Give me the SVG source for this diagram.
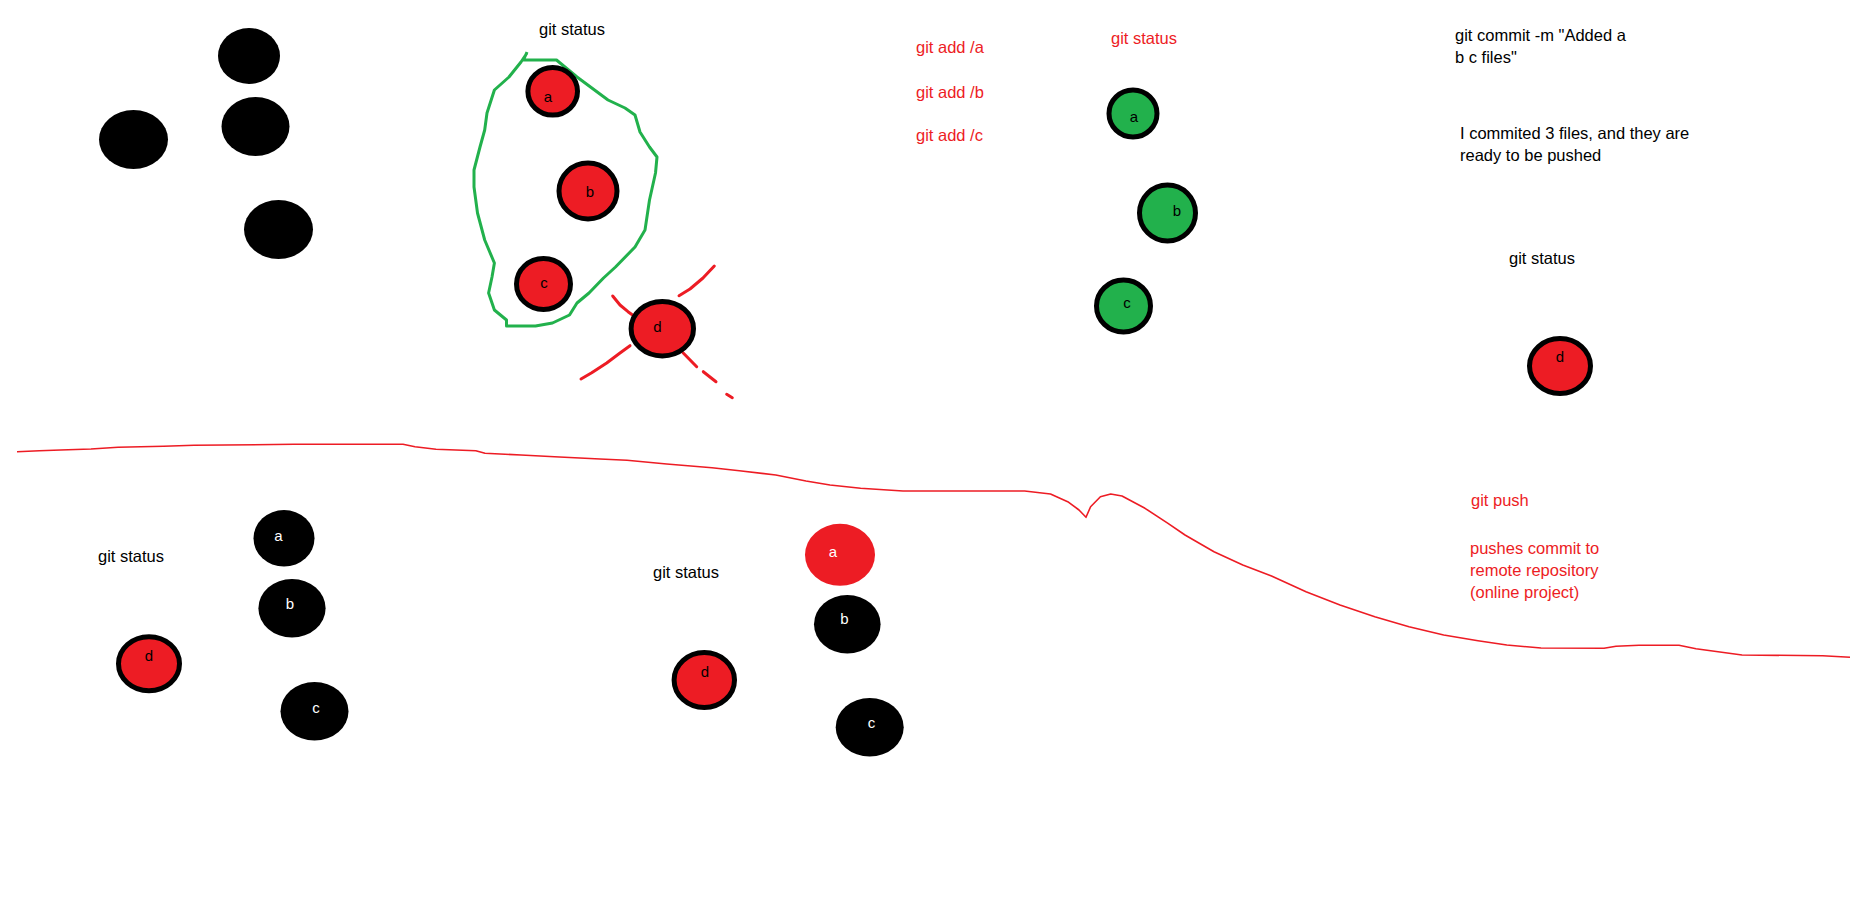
<svg xmlns="http://www.w3.org/2000/svg" width="1851" height="903" viewBox="0 0 1851 903">
<style>
.t{font-family:"Liberation Sans",Arial,sans-serif;font-size:16.5px;fill:#000}
.tr{font-family:"Liberation Sans",Arial,sans-serif;font-size:16.5px;fill:#ED1C24}
.l{font-family:"Liberation Sans",Arial,sans-serif;font-size:15px;text-anchor:middle;fill:#000}
.lw{font-family:"Liberation Sans",Arial,sans-serif;font-size:15px;text-anchor:middle;fill:#fff}
.blk{fill:#000}
.rb{fill:#ED1C24;stroke:#000;stroke-width:5}
.gb{fill:#22B14C;stroke:#000;stroke-width:5}
.rf{fill:#ED1C24}
.rs{fill:none;stroke:#ED1C24;stroke-width:3;stroke-linecap:round;stroke-linejoin:round}
</style>
<rect width="1851" height="903" fill="#fff"/>

<g id="blobs">
<ellipse class="blk" cx="249" cy="56" rx="31" ry="28"/>
<ellipse class="blk" cx="133.5" cy="139.5" rx="34.5" ry="29.5"/>
<ellipse class="blk" cx="255.5" cy="126.5" rx="34" ry="29.5"/>
<ellipse class="blk" cx="278.5" cy="229.5" rx="34.5" ry="29.5"/>
</g>

<g id="connectors">
<polyline fill="none" stroke="#22B14C" stroke-width="3" stroke-linejoin="round" points="527,52 523.5,60 556.5,60 577,77 608,100 625,108 635,115 640,132 649.5,147 657,157 655.5,173 649.5,200 645,230 635,247 615.5,267 603.5,278 589,293 577,303 569.5,315 552.5,323 535.5,326 506.5,326 506.5,320 494.4,310 488.6,293 492,277 494.4,263 484.7,240 477.5,213 474,187 474,170 480,147 484.7,130 487,113 494.4,90 509,77 521,62 527,53"/>
<path class="rs" d="M714.3,266 L703,278 L690,289 L679,295.7"/>
<path class="rs" d="M612.7,296 L620,305 L628,311.7 L635,316.7"/>
<path class="rs" d="M630,345.7 L620,353 L606.7,363 L591.7,372.7 L581,379"/>
<path class="rs" d="M683,352.7 L696.7,366.7 M703.3,371.7 L716,381.7 M726.7,394.3 L732.3,397.7"/>
<polyline fill="none" stroke="#ED1C24" stroke-width="1.6" stroke-linejoin="round" points="17,451.7 39.4,450.7 60.6,450 91,449 118,447.3 163.6,446.3 194,445.3 294,444.3 403,444.3 415,446.7 436,449.3 475.8,450.7 485,453.3 521,455 554.5,456.7 600,459 627,460.3 666.7,464 712,467.7 739.4,470.7 775.8,475 806,481 830,485 860.6,488.3 903,491 950,491 1024.6,491 1050.5,494 1067.7,501.7 1079,510 1086,517.3 1090.6,506.7 1100.4,496.7 1110.7,494 1122,496 1145,508.3 1168,523.3 1185,535 1214,551.7 1242.8,565 1271.5,576 1306,591.7 1340,605 1374.8,616.7 1409,626.7 1443.7,635 1478,640.7 1506.8,645 1541,648 1604,648.3 1616,646.3 1639,645.3 1679,645.3 1696,648.7 1742,655 1822.6,655.7 1850,657.3"/>
</g>

<g id="staged-a"><ellipse class="rb" cx="552.7" cy="91.3" rx="24.8" ry="23.8"/><text class="l" x="548" y="101.5">a</text></g>
<g id="staged-b"><ellipse class="rb" cx="588" cy="191" rx="29" ry="28"/><text class="l" x="590" y="197">b</text></g>
<g id="staged-c"><ellipse class="rb" cx="543.5" cy="284" rx="27" ry="25.5"/><text class="l" x="544" y="287.5">c</text></g>
<g id="unstaged-d"><ellipse class="rb" cx="662.3" cy="328.7" rx="31.2" ry="27.2"/><text class="l" x="657.3" y="331.5">d</text></g>

<g id="committed-a"><ellipse class="gb" cx="1133" cy="113.5" rx="24" ry="23.5"/><text class="l" x="1134" y="122">a</text></g>
<g id="committed-b"><ellipse class="gb" cx="1167.5" cy="213" rx="28" ry="28"/><text class="l" x="1177" y="216">b</text></g>
<g id="committed-c"><ellipse class="gb" cx="1123.5" cy="306" rx="27" ry="26"/><text class="l" x="1127" y="307.5">c</text></g>
<g id="status-d"><ellipse class="rb" cx="1560" cy="366" rx="30.5" ry="27.5"/><text class="l" x="1560" y="362">d</text></g>

<g id="left-a"><ellipse class="blk" cx="284" cy="538.3" rx="30.5" ry="28.3"/><text class="lw" x="278.5" y="540.5">a</text></g>
<g id="left-b"><ellipse class="blk" cx="292" cy="608.3" rx="33.6" ry="29.3"/><text class="lw" x="290" y="608.5">b</text></g>
<g id="left-d"><ellipse class="rb" cx="149" cy="663.7" rx="30.5" ry="27"/><text class="l" x="149" y="661">d</text></g>
<g id="left-c"><ellipse class="blk" cx="314.5" cy="711.3" rx="34" ry="29.3"/><text class="lw" x="316" y="712.5">c</text></g>

<g id="mid-a"><ellipse class="rf" cx="840" cy="554.8" rx="35" ry="31"/><text class="lw" x="833" y="556.5">a</text></g>
<g id="mid-b"><ellipse class="blk" cx="847.3" cy="624.3" rx="33.3" ry="29.3"/><text class="lw" x="844.3" y="624">b</text></g>
<g id="mid-d"><ellipse class="rb" cx="704.3" cy="680" rx="30.2" ry="27.5"/><text class="l" x="705" y="677">d</text></g>
<g id="mid-c"><ellipse class="blk" cx="869.7" cy="727.3" rx="34" ry="29.3"/><text class="lw" x="871.5" y="728">c</text></g>

<g id="texts">
<text class="t" x="539" y="35">git status</text>
<text class="tr" x="916" y="53">git add /a</text>
<text class="tr" x="916" y="98">git add /b</text>
<text class="tr" x="916" y="141">git add /c</text>
<text class="tr" x="1111" y="44">git status</text>
<text class="t" x="1455" y="41">git commit -m "Added a</text>
<text class="t" x="1455" y="63">b c files"</text>
<text class="t" x="1460" y="139">I commited 3 files, and they are</text>
<text class="t" x="1460" y="161">ready to be pushed</text>
<text class="t" x="1509" y="264">git status</text>
<text class="tr" x="1471" y="506">git push</text>
<text class="tr" x="1470" y="554">pushes commit to</text>
<text class="tr" x="1470" y="576">remote repository</text>
<text class="tr" x="1470" y="598">(online project)</text>
<text class="t" x="98" y="562">git status</text>
<text class="t" x="653" y="578">git status</text>
</g>
</svg>
